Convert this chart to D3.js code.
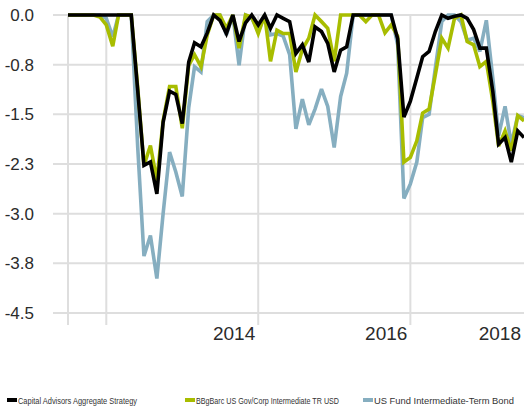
<!DOCTYPE html>
<html>
<head>
<meta charset="utf-8">
<script src="https://cdn.jsdelivr.net/npm/d3@7"></script>
<style>
  body { margin: 0; background: #fff; }
  svg { display: block; font-family: "Liberation Sans Narrow", "Liberation Sans", sans-serif; }
</style>
</head>
<body>
<div id="vizDiv"></div>
<script>
var width = 524;
var height = 407;

// monthly drawdown data, Jul 2012 .. Jul 2018
var months = [
  "2012-07","2012-08","2012-09","2012-10","2012-11","2012-12",
  "2013-01","2013-02","2013-03","2013-04","2013-05","2013-06","2013-07","2013-08","2013-09","2013-10","2013-11","2013-12",
  "2014-01","2014-02","2014-03","2014-04","2014-05","2014-06","2014-07","2014-08","2014-09","2014-10","2014-11","2014-12",
  "2015-01","2015-02","2015-03","2015-04","2015-05","2015-06","2015-07","2015-08","2015-09","2015-10","2015-11","2015-12",
  "2016-01","2016-02","2016-03","2016-04","2016-05","2016-06","2016-07","2016-08","2016-09","2016-10","2016-11","2016-12",
  "2017-01","2017-02","2017-03","2017-04","2017-05","2017-06","2017-07","2017-08","2017-09","2017-10","2017-11","2017-12",
  "2018-01","2018-02","2018-03","2018-04","2018-05","2018-06","2018-07"
];

var capitalAdvisors = [
  0, 0, 0, 0, 0, 0, 0, 0, 0, 0, 0, -1.14,
  -2.27, -2.22, -2.70, -1.62, -1.15, -1.20, -1.64, -0.71, -0.42, -0.48, -0.27, 0,
  -0.08, -0.28, 0, -0.40, -0.12, 0, -0.15, 0, -0.20, 0, -0.05, -0.10,
  -0.58, -0.45, -0.71, -0.18, -0.25, -0.43, -0.86, -0.53, -0.48, 0, 0, 0,
  0, 0, 0, 0, -0.36, -1.54, -1.30, -0.95, -0.63, -0.55, -0.25, 0,
  -0.05, -0.02, 0, -0.05, -0.22, -0.50, -0.50, -1.15, -1.95, -1.85, -2.22, -1.75,
  -1.85
];

var bbgBarc = [
  0, 0, 0, 0, 0, -0.03, -0.15, -0.47, 0, 0, 0, -1.10,
  -2.27, -1.97, -2.50, -1.60, -1.08, -1.08, -1.71, -0.76, -0.60, -0.78, -0.30, 0,
  0, -0.20, 0, -0.50, 0, -0.03, -0.28, 0, -0.70, -0.23, -0.28, -0.28,
  -0.86, -0.52, -0.35, 0, -0.10, -0.20, -0.70, 0, 0, 0, 0, -0.10,
  0, 0, -0.27, -0.15, -0.32, -2.22, -2.15, -1.90, -1.48, -1.42, -0.90, -0.35,
  -0.50, -0.05, 0, -0.40, -0.45, -0.78, -0.70, -1.30, -1.98, -1.75, -2.05, -1.52,
  -1.60
];

var usFundBond = [
  0, 0, 0, 0, 0, 0, -0.05, -0.33, 0, 0, 0, -2.00,
  -3.64, -3.33, -3.98, -3.00, -2.07, -2.37, -2.74, -1.40, -0.78, -0.86, -0.10, 0,
  0, -0.30, 0, -0.76, 0, -0.05, -0.25, 0, -0.30, -0.28, -0.32, -0.60,
  -1.72, -1.27, -1.66, -1.42, -1.12, -1.38, -2.00, -1.23, -0.88, 0, 0, 0,
  0, 0, 0, 0, -0.45, -2.77, -2.55, -2.22, -1.55, -1.50, -0.80, -0.10,
  0, 0, -0.10, -0.38, -0.35, -0.55, -0.08, -0.95, -1.82, -1.38, -1.95, -1.52,
  -1.55
];

var seriesNames = ["Capital Advisors Aggregate Strategy", "BBgBarc US Gov/Corp Intermediate TR USD", "US Fund Intermediate-Term Bond"];
var seriesColors = ["#000000", "#a8bd00", "#86aec0"];
var yTicks = [0, -0.75, -1.5, -2.25, -3, -3.75, -4.5];
var xGridDates = ["2012-07", "2013-01", "2015-01", "2017-01"];
var xLabels = ["2014", "2016", "2018"];

var parseMonth = d3.timeParse("%Y-%m");
var dates = months.map(parseMonth);

var svg = d3.select("#vizDiv")
  .append("svg")
  .attr("width", width)
  .attr("height", height);

var x = d3.scaleTime()
  .domain([dates[0], dates[dates.length - 1]])
  .range([68, 524]);

var y = d3.scaleLinear()
  .domain([0, -4.5])
  .range([15, 313]);

var fmt = d3.format(".1f");

// horizontal grid + y labels
svg.append("g")
  .selectAll("line")
  .data(yTicks)
  .enter()
  .append("line")
  .attr("x1", 53)
  .attr("x2", width)
  .attr("y1", function(d) { return y(d); })
  .attr("y2", function(d) { return y(d); })
  .attr("stroke", "#dedede")
  .attr("stroke-width", 2);

svg.append("g")
  .selectAll("text")
  .data(yTicks)
  .enter()
  .append("text")
  .attr("x", 34)
  .attr("y", function(d) { return y(d) + 6; })
  .attr("text-anchor", "end")
  .attr("font-size", "17px")
  .attr("fill", "#2b2b2b")
  .text(function(d) { return fmt(d).replace("\u2212", "-"); });

// vertical grid
svg.append("g")
  .selectAll("line")
  .data(xGridDates.map(parseMonth))
  .enter()
  .append("line")
  .attr("x1", function(d) { return x(d); })
  .attr("x2", function(d) { return x(d); })
  .attr("y1", 15)
  .attr("y2", 325)
  .attr("stroke", "#dedede")
  .attr("stroke-width", 2);

// year labels sit at the end of their year, clamped to plot end
svg.append("g")
  .selectAll("text")
  .data(xLabels)
  .enter()
  .append("text")
  .attr("x", function(d) {
    var end = x(new Date(+d + 1, 0, 1));
    return Math.min(end, width) - 3;
  })
  .attr("y", 340)
  .attr("text-anchor", "end")
  .attr("font-size", "19px")
  .attr("fill", "#2b2b2b")
  .text(function(d) { return d; });

// lines, bottom to top
var line = d3.line()
  .x(function(d, i) { return x(dates[i]); })
  .y(function(d) { return y(d); });

var allSeries = [capitalAdvisors, bbgBarc, usFundBond];
[2, 1, 0].forEach(function(k) {
  svg.append("path")
    .attr("d", line(allSeries[k]))
    .attr("fill", "none")
    .attr("stroke", seriesColors[k])
    .attr("stroke-width", 3.6)
    .attr("stroke-linejoin", "miter")
    .attr("stroke-miterlimit", 3);
});

// legend
var legendX = [7, 185, 363];
var legendW = [119, 143, 140];
var legend = svg.append("g");
seriesNames.forEach(function(name, k) {
  legend.append("rect")
    .attr("x", legendX[k])
    .attr("y", 398)
    .attr("width", 10)
    .attr("height", 4)
    .attr("fill", seriesColors[k]);
  legend.append("text")
    .attr("x", legendX[k] + 11)
    .attr("y", 404)
    .attr("font-size", "8.6px")
    .attr("fill", "#333")
    .attr("textLength", legendW[k])
    .attr("lengthAdjust", "spacingAndGlyphs")
    .text(name);
});
</script>
</body>
</html>
